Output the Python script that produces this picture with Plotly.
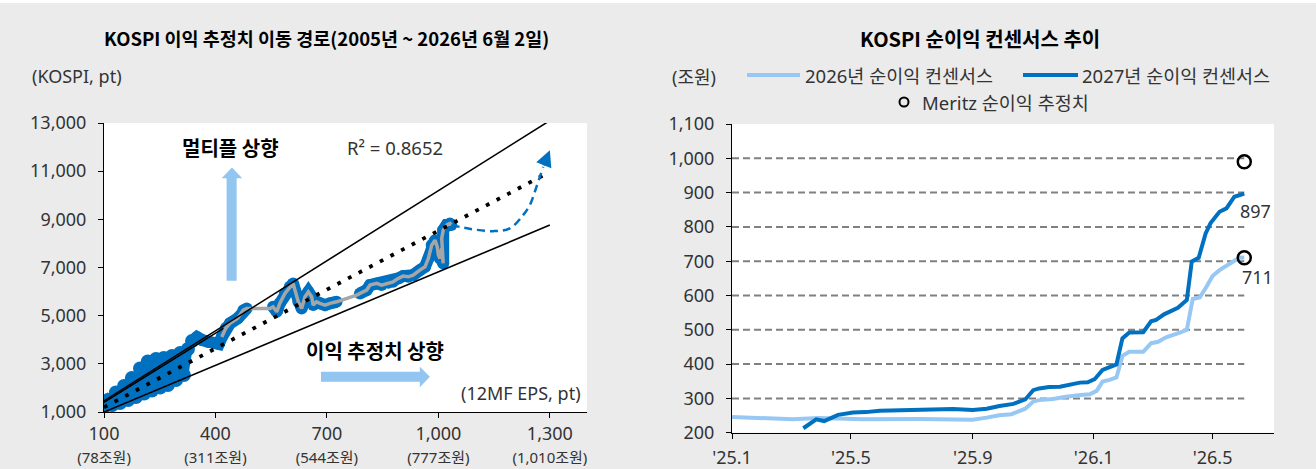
import plotly.graph_objects as go

W, H = 1316, 469
BG = "#ebebeb"
DARK = "#0070c0"
LIGHT = "#97c8f3"
ARROW = "#92c5f0"
GRAY = "#a6a6a6"
FONT = "Noto Sans, Noto Sans CJK KR, sans-serif"
KFONT = "Noto Sans CJK KR, Noto Sans, sans-serif"
TXT = "#333333"

# ---------------- Left chart data: KOSPI vs 12MF EPS path ----------------
eps_path = [100, 111, 122, 132, 143, 154, 165, 175, 186, 197, 208, 218, 229, 240, 251, 261,
            272, 283, 294, 305, 315, 326,
            337, 350, 364, 380, 396, 409, 417,
            428, 439, 460, 475, 484, 547, 555, 565, 573, 587,
            600, 609, 614, 623, 632, 641, 650, 659, 663, 672, 681, 695, 708, 726, 780, 789,
            807, 816, 834, 847, 865, 878, 892, 905, 919, 932, 950, 964, 973, 982, 991, 997,
            1000, 1004, 1009, 1011, 1013, 1009, 1013, 1022, 1031, 1035]
kospi_path = [1207, 1498, 1290, 1809, 1373, 2079, 1498, 2411, 1622, 2805, 1768, 3095, 1892, 3199, 2017, 3240,
              2120, 3323, 2328, 3448, 2535, 3614,
              3946, 4112, 3987, 3904, 3863, 3821, 4112,
              4485, 4680, 4890, 5230, 5300, 5300, 5370, 5160, 5510, 5925,
              6200, 6340, 6060, 5576, 5300, 5784, 5990, 5784, 5440, 5576, 5510, 5440, 5510, 5576, 5854, 5925,
              6062, 6270, 6340, 6270, 6365, 6406, 6547, 6643, 6614, 6684, 6890, 7029, 7377, 7930, 8136, 7858,
              7514, 7377, 7792, 7236, 7170, 8207, 8551, 8760, 8829, 8760]
dense_end = 22           # 2005~2024 dense cloud: points [0, dense_end)
gray_start = 28          # index where the grey daily line begins
gray_only = [34, 53]     # points on the grey line without blue halo

# scenario (dashed) path
fc_eps = [1035, 1090, 1147, 1192, 1228, 1246, 1264, 1282]
fc_kospi = [8760, 8593, 8510, 8622, 9174, 9589, 10348, 11178]
fc_tip = (1300, 11870)

# band / regression lines
upper_eps, upper_kospi = [100, 1300], [1460, 13100]
upper2_eps, upper2_kospi = [100, 421], [1400, 4470]
lower_eps, lower_kospi = [100, 1300], [1000, 8760]
reg_eps, reg_kospi = [100, 1290], [1195, 10890]

x_ticks = [100, 400, 700, 1000, 1300]
x_tick_main = ["100", "400", "700", "1,000", "1,300"]
x_tick_sub = ["(78조원)", "(311조원)", "(544조원)", "(777조원)", "(1,010조원)"]
y_ticks_left = [1000, 3000, 5000, 7000, 9000, 11000, 13000]

# ---------------- Right chart data: net profit consensus ----------------
d26 = ["2025-01-01", "2025-02-01", "2025-03-03", "2025-03-30", "2025-05-13", "2025-07-09", "2025-09-01",
       "2025-09-15", "2025-09-28", "2025-10-10", "2025-10-18", "2025-10-24", "2025-11-01", "2025-11-07",
       "2025-11-21", "2025-12-04", "2025-12-19", "2025-12-28", "2026-01-04", "2026-01-10", "2026-01-17",
       "2026-01-24", "2026-01-30", "2026-02-06", "2026-02-20", "2026-02-28", "2026-03-07", "2026-03-15",
       "2026-03-29", "2026-04-05", "2026-04-11", "2026-04-18", "2026-04-25", "2026-05-01", "2026-05-08",
       "2026-05-16", "2026-05-23", "2026-05-28", "2026-06-02"]
v26 = [246, 242, 239, 243, 239, 240, 238, 244, 251, 254, 264, 270, 291, 295, 298, 305, 310, 312, 322,
       349, 354, 361, 424, 436, 436, 461, 465, 478, 492, 500, 590, 594, 626, 657, 674, 689, 704, 710, 711]
d27 = ["2025-03-14", "2025-03-27", "2025-04-04", "2025-04-18", "2025-05-03", "2025-05-16", "2025-05-30",
       "2025-07-09", "2025-08-12", "2025-09-01", "2025-09-15", "2025-09-28", "2025-10-12", "2025-10-24",
       "2025-11-01", "2025-11-07", "2025-11-17", "2025-11-28", "2025-12-08", "2025-12-18", "2025-12-26",
       "2026-01-02", "2026-01-10", "2026-01-17", "2026-01-24", "2026-01-30", "2026-02-06", "2026-02-20",
       "2026-02-28", "2026-03-05", "2026-03-13", "2026-03-27", "2026-04-03", "2026-04-05", "2026-04-10",
       "2026-04-17", "2026-04-24", "2026-04-29", "2026-05-08", "2026-05-15", "2026-05-23", "2026-05-29",
       "2026-06-02"]
v27 = [213, 239, 234, 252, 259, 260, 264, 266, 269, 266, 270, 278, 284, 297, 324, 329, 333, 334, 339,
       346, 347, 356, 383, 391, 399, 475, 492, 493, 525, 529, 545, 564, 582, 587, 699, 710, 781, 811,
       844, 854, 888, 895, 897]
meritz_date = ["2026-06-02", "2026-06-02"]
meritz_val = [990, 710]
r_ticks_x = ["2025-01-01", "2025-05-01", "2025-09-01", "2026-01-01", "2026-05-01"]
r_ticks_txt = ["'25.1", "'25.5", "'25.9", "'26.1", "'26.5"]
r_ticks_y = list(range(200, 1101, 100))
grid_y = list(range(300, 1001, 100))

# ---------------- Build figure ----------------
fig = go.Figure()

# dense early cloud
fig.add_trace(go.Scatter(x=eps_path[:dense_end + 1], y=kospi_path[:dense_end + 1], mode="lines+markers",
                         xaxis="x", yaxis="y", line=dict(color=DARK, width=9),
                         marker=dict(color=DARK, size=14), hoverinfo="skip", showlegend=False))
# blue halo for later path (break where only grey line exists)
bx, by = [], []
for i in range(dense_end, len(eps_path)):
    if i in gray_only:
        bx.append(None); by.append(None)
        continue
    bx.append(eps_path[i]); by.append(kospi_path[i])
fig.add_trace(go.Scatter(x=bx, y=by, mode="lines+markers", xaxis="x", yaxis="y",
                         line=dict(color=DARK, width=12), marker=dict(color=DARK, size=12),
                         connectgaps=False, hoverinfo="skip", showlegend=False))
fig.add_trace(go.Scatter(x=eps_path[gray_start:], y=kospi_path[gray_start:], mode="lines",
                         xaxis="x", yaxis="y", line=dict(color=GRAY, width=3.5),
                         hoverinfo="skip", showlegend=False))
# black band lines
for xs, ys in [(upper_eps, upper_kospi), (upper2_eps, upper2_kospi), (lower_eps, lower_kospi)]:
    fig.add_trace(go.Scatter(x=xs, y=ys, mode="lines", xaxis="x", yaxis="y",
                             line=dict(color="black", width=1.6), hoverinfo="skip", showlegend=False))
fig.add_trace(go.Scatter(x=reg_eps, y=reg_kospi, mode="lines", xaxis="x", yaxis="y",
                         line=dict(color="black", width=3.8, dash="3.8px,8.2px"),
                         hoverinfo="skip", showlegend=False))
fig.add_trace(go.Scatter(x=fc_eps, y=fc_kospi, mode="lines", xaxis="x", yaxis="y",
                         line=dict(color=DARK, width=2.5, dash="8px,5px", shape="spline"),
                         hoverinfo="skip", showlegend=False))

# right chart
fig.add_trace(go.Scatter(x=d26, y=v26, mode="lines", xaxis="x2", yaxis="y2",
                         line=dict(color=LIGHT, width=4), hoverinfo="skip", showlegend=False))
fig.add_trace(go.Scatter(x=d27, y=v27, mode="lines", xaxis="x2", yaxis="y2",
                         line=dict(color=DARK, width=4), hoverinfo="skip", showlegend=False))
fig.add_trace(go.Scatter(x=meritz_date, y=meritz_val, mode="markers", xaxis="x2", yaxis="y2",
                         marker=dict(symbol="circle-open", size=13, color="black", line=dict(width=2.5)),
                         hoverinfo="skip", showlegend=False))

shapes = []
# top white strip
shapes.append(dict(type="rect", xref="paper", yref="paper", x0=0, x1=1, y0=1 - 3 / H, y1=1,
                   fillcolor="white", line=dict(width=0), layer="below"))
# grid dashes on right chart
for g in grid_y:
    shapes.append(dict(type="line", xref="x2", yref="y2", x0=d26[0], x1=d26[-1], y0=g, y1=g,
                       line=dict(color="#808080", width=2, dash="7px,4px"), layer="below"))
# block arrows on left chart
shapes.append(dict(type="path", xref="x", yref="y",
                   path="M 430,6448 L 457,6448 L 457,10709 L 472,10709 L 444.4,11152 L 416.7,10709 L 430,10709 Z",
                   fillcolor=ARROW, line=dict(width=0), layer="below"))
shapes.append(dict(type="path", xref="x", yref="y",
                   path="M 684,2257 L 950,2257 L 950,2025 L 977,2460 L 950,2880 L 950,2672 L 684,2672 Z",
                   fillcolor=ARROW, line=dict(width=0), layer="below"))
# legend samples (right chart)
shapes.append(dict(type="line", xref="paper", yref="paper", x0=747 / W, x1=800 / W,
                   y0=1 - 75 / H, y1=1 - 75 / H, line=dict(color=LIGHT, width=4)))
shapes.append(dict(type="line", xref="paper", yref="paper", x0=1023 / W, x1=1078 / W,
                   y0=1 - 75 / H, y1=1 - 75 / H, line=dict(color=DARK, width=4)))
shapes.append(dict(type="circle", xref="paper", yref="paper", xsizemode="pixel", ysizemode="pixel",
                   xanchor=904 / W, yanchor=1 - 102 / H, x0=-4.5, x1=4.5, y0=-4.5, y1=4.5,
                   line=dict(color="black", width=2)))

ann = []
def txt(x, y, s, size=18, bold=False, xanchor="center", color=TXT, family=FONT):
    ann.append(dict(xref="paper", yref="paper", x=x / W, y=1 - y / H, text=s, showarrow=False,
                    xanchor=xanchor, yanchor="middle",
                    font=dict(size=size, color=color, family=family, weight=700 if bold else 400)))

txt(326, 38, "KOSPI 이익 추정치 이동 경로(2005년 ~ 2026년 6월 2일)", 18.5, True, color="black", family=KFONT)
txt(980, 38, "KOSPI 순이익 컨센서스 추이", 20, True, color="black", family=KFONT)
txt(30, 76, "(KOSPI, pt)", 18, xanchor="left")
txt(583, 393, "(12MF EPS, pt)", 18, xanchor="right")
txt(230, 148, "멀티플 상향", 20, True, color="black", family=KFONT)
txt(345, 148, "R² = 0.8652", 18.5, xanchor="left")
txt(375, 350, "이익 추정치 상향", 20, True, color="black", family=KFONT)
txt(694, 77, "(조원)", 18)
txt(803, 75, "2026년 순이익 컨센서스", 18.5, xanchor="left")
txt(1080, 75, "2027년 순이익 컨센서스", 18.5, xanchor="left")
txt(920, 102, "Meritz 순이익 추정치", 18.5, xanchor="left")

# end labels
ann.append(dict(xref="x2", yref="y2", x=d27[-1], y=v27[-1], text=str(v27[-1]), showarrow=False,
                xanchor="left", yanchor="top", xshift=-6, yshift=-3,
                font=dict(size=18, color=TXT, family=FONT)))
ann.append(dict(xref="x2", yref="y2", x=d26[-1], y=v26[-1], text=str(v26[-1]), showarrow=False,
                xanchor="left", yanchor="top", xshift=-4, yshift=-6,
                font=dict(size=18, color=TXT, family=FONT)))
# scenario arrow head
ann.append(dict(xref="x", yref="y", axref="x", ayref="y", x=fc_tip[0], y=fc_tip[1],
                ax=fc_eps[-1], ay=fc_kospi[-1], showarrow=True, arrowhead=2, arrowsize=1.3,
                arrowwidth=2.5, arrowcolor=DARK, text="", standoff=0))

tick_font = dict(size=18, color=TXT, family=FONT)
fig.update_layout(
    width=W, height=H, autosize=False,
    margin=dict(l=0, r=0, t=0, b=0, pad=0, autoexpand=False),
    paper_bgcolor=BG, plot_bgcolor="white",
    showlegend=False,
    shapes=shapes, annotations=ann,
    xaxis=dict(domain=[104 / W, 587 / W], range=[100, 1400], tickvals=x_ticks,
               ticktext=[f"{m}<br><span style='font-size:15px'>{s}</span>" for m, s in zip(x_tick_main, x_tick_sub)],
               showline=True, linecolor="black", linewidth=1, ticks="outside", ticklen=5,
               tickcolor="black", showgrid=False, zeroline=False, tickfont=tick_font,
               anchor="y", automargin=False),
    yaxis=dict(domain=[(H - 412) / H, (H - 123) / H], range=[1000, 13000], tickvals=y_ticks_left,
               tickformat=",", showline=True, linecolor="black", linewidth=1, ticks="outside",
               ticklen=5, tickcolor="black", showgrid=False, zeroline=False, tickfont=tick_font,
               ticklabelstandoff=8, anchor="x", automargin=False),
    xaxis2=dict(domain=[732 / W, 1274 / W], type="date", range=["2025-01-01", "2026-07-02"],
                tickvals=r_ticks_x, ticktext=r_ticks_txt, showline=True, linecolor="black",
                linewidth=1, ticks="outside", ticklen=5, tickcolor="black", showgrid=False,
                zeroline=False, tickfont=tick_font, ticklabelstandoff=4, anchor="y2", automargin=False),
    yaxis2=dict(domain=[(H - 432.7) / H, (H - 124) / H], range=[200, 1100], tickvals=r_ticks_y,
                tickformat=",", showline=True, linecolor="black", linewidth=1, ticks="outside",
                ticklen=5, tickcolor="black", showgrid=False, zeroline=False, tickfont=tick_font,
                ticklabelstandoff=8, anchor="x2", automargin=False),
)

fig.write_html("out.html")
